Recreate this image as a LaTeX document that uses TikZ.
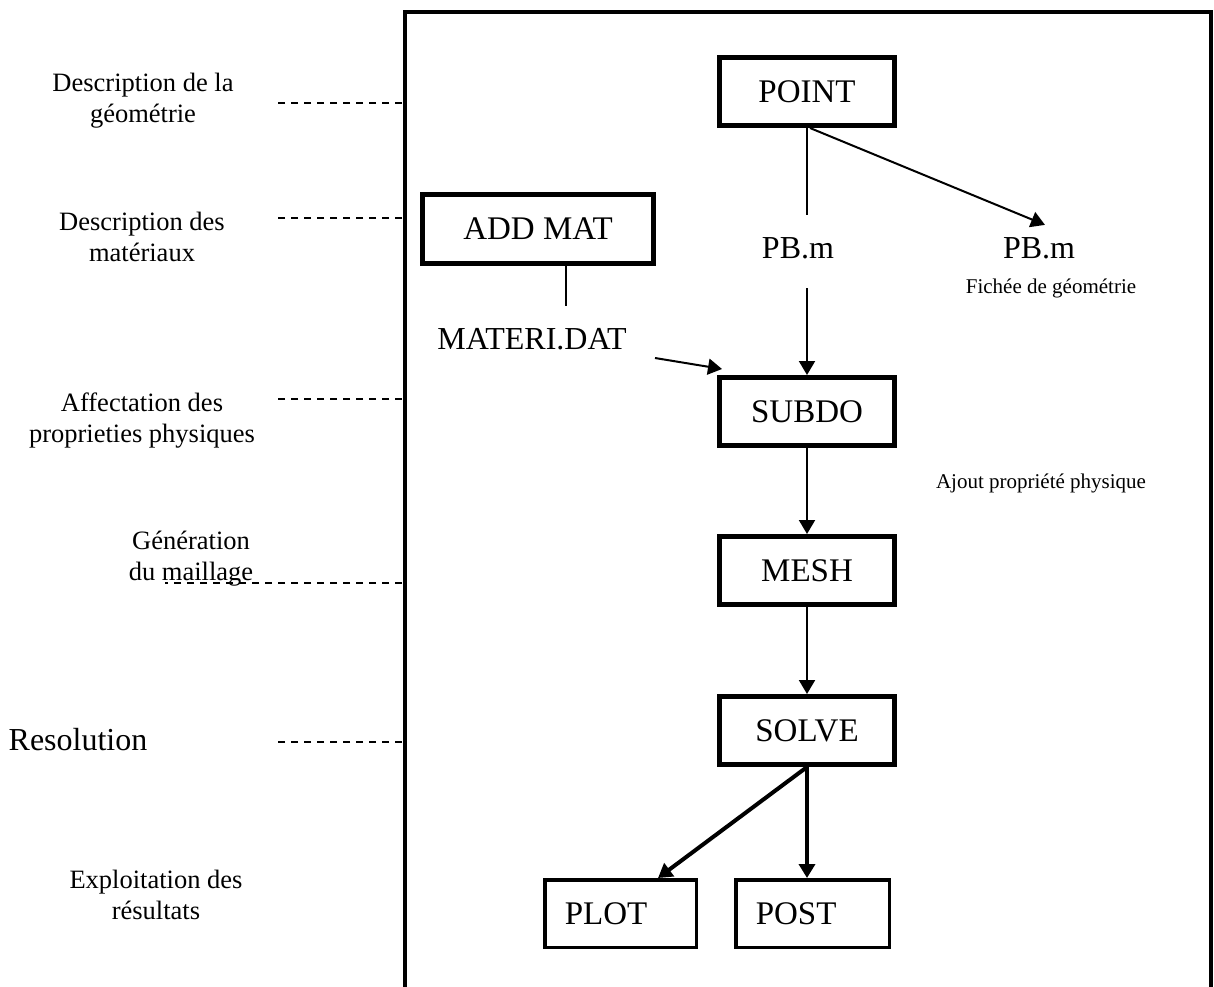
\documentclass[tikz,border=0pt]{standalone}
\usepackage{fontspec}
\setmainfont{Liberation Serif}
\usetikzlibrary{arrows.meta,positioning}

\tikzset{
  stage/.style={draw,line width=2.5pt,minimum width=87.5pt,minimum height=34pt,inner sep=0pt,font=\fontsize{16.5}{19}\selectfont},
  output/.style={draw,line width=1.75pt,minimum height=33.75pt,inner xsep=10pt,inner ysep=0pt,align=left,font=\fontsize{16.5}{19}\selectfont},
  phase/.style={align=center,inner sep=0pt,font=\fontsize{13.25}{15.5}\selectfont},
  file/.style={inner sep=0pt,font=\fontsize{16}{19}\selectfont},
  note/.style={inner sep=0pt,font=\fontsize{10.5}{12.5}\selectfont},
  flow/.style={-{Triangle[length=7pt,width=8pt]},line width=1pt},
  leader/.style={dash pattern=on 3.5pt off 3pt,line width=0.55pt}
}

\begin{document}
\begin{tikzpicture}[x=0.5pt,y=-0.5pt]
  \useasboundingbox (0,0) rectangle (1214,986);
  \draw[line width=1.75pt] (405,1000) |- (1211,12) -- (1211,1000);

  % phases of the run
  \node[phase] (geom) at (143,101) {Description de la\\g\'eom\'etrie};
  \node[phase] (mat) at (142,237) {Description des\\mat\'eriaux};
  \node[phase] (affect) at (142,421) {Affectation des\\proprieties physiques};
  \node[phase] (gen) at (191,559) {G\'en\'eration\\du maillage};
  \node[phase,font=\fontsize{16}{19}\selectfont] (resol) at (78,740) {Resolution};
  \node[phase] (exploit) at (156,895) {Exploitation des\\r\'esultats};
  \foreach \y in {103,218,399,742}
    \draw[leader] (402,\y) -- (273,\y);
  \draw[leader] (402,583) -- (165,583);

  % modules
  \node[stage] (point) at (807,91.5) {POINT};
  \node[stage,minimum width=115.5pt,minimum height=34.5pt] (addmat) at (538,229) {ADD MAT};
  \node[stage] (subdo) at (807,411.5) {SUBDO};
  \node[stage] (mesh) at (807,570.5) {MESH};
  \node[stage] (solve) at (807,730.5) {SOLVE};
  \node[output,text width=55.75pt] (plot) at (620.5,913.5) {PLOT};
  \node[output,text width=56.75pt] (post) at (812.5,913.5) {POST};

  % files
  \node[file] (pbm) at (798,248) {PB.m};
  \node[file] (pbgeo) at (1039,248) {PB.m};
  \node[note] (fichee) at (1051,288) {Fich\'ee de g\'eom\'etrie};
  \node[file] (materi) at (532,339) {MATERI.DAT};
  \node[note] (ajout) at (1041,483) {Ajout propri\'et\'e physique};

  \draw[line width=1pt] (point.south) -- (point.south |- 0,215);
  \draw[flow] (point.south |- 0,288) -- (subdo.north);
  \draw[flow] ([xshift=1.5pt]point.south) -- ([xshift=3pt,yshift=6pt]pbgeo.north);
  \draw[line width=1pt] (addmat.south -| 566,0) -- (566,306);
  \draw[flow] (655,358) -- ([xshift=2.5pt,yshift=3pt]subdo.north west);
  \draw[flow] (subdo) -- (mesh);
  \draw[flow] (mesh) -- (solve);
  \draw[flow,line width=2pt] (solve.south) -- ([xshift=18.75pt]plot.north);
  \draw[flow,line width=2pt] (solve.south) -- (solve.south |- post.north);
\end{tikzpicture}
\end{document}
